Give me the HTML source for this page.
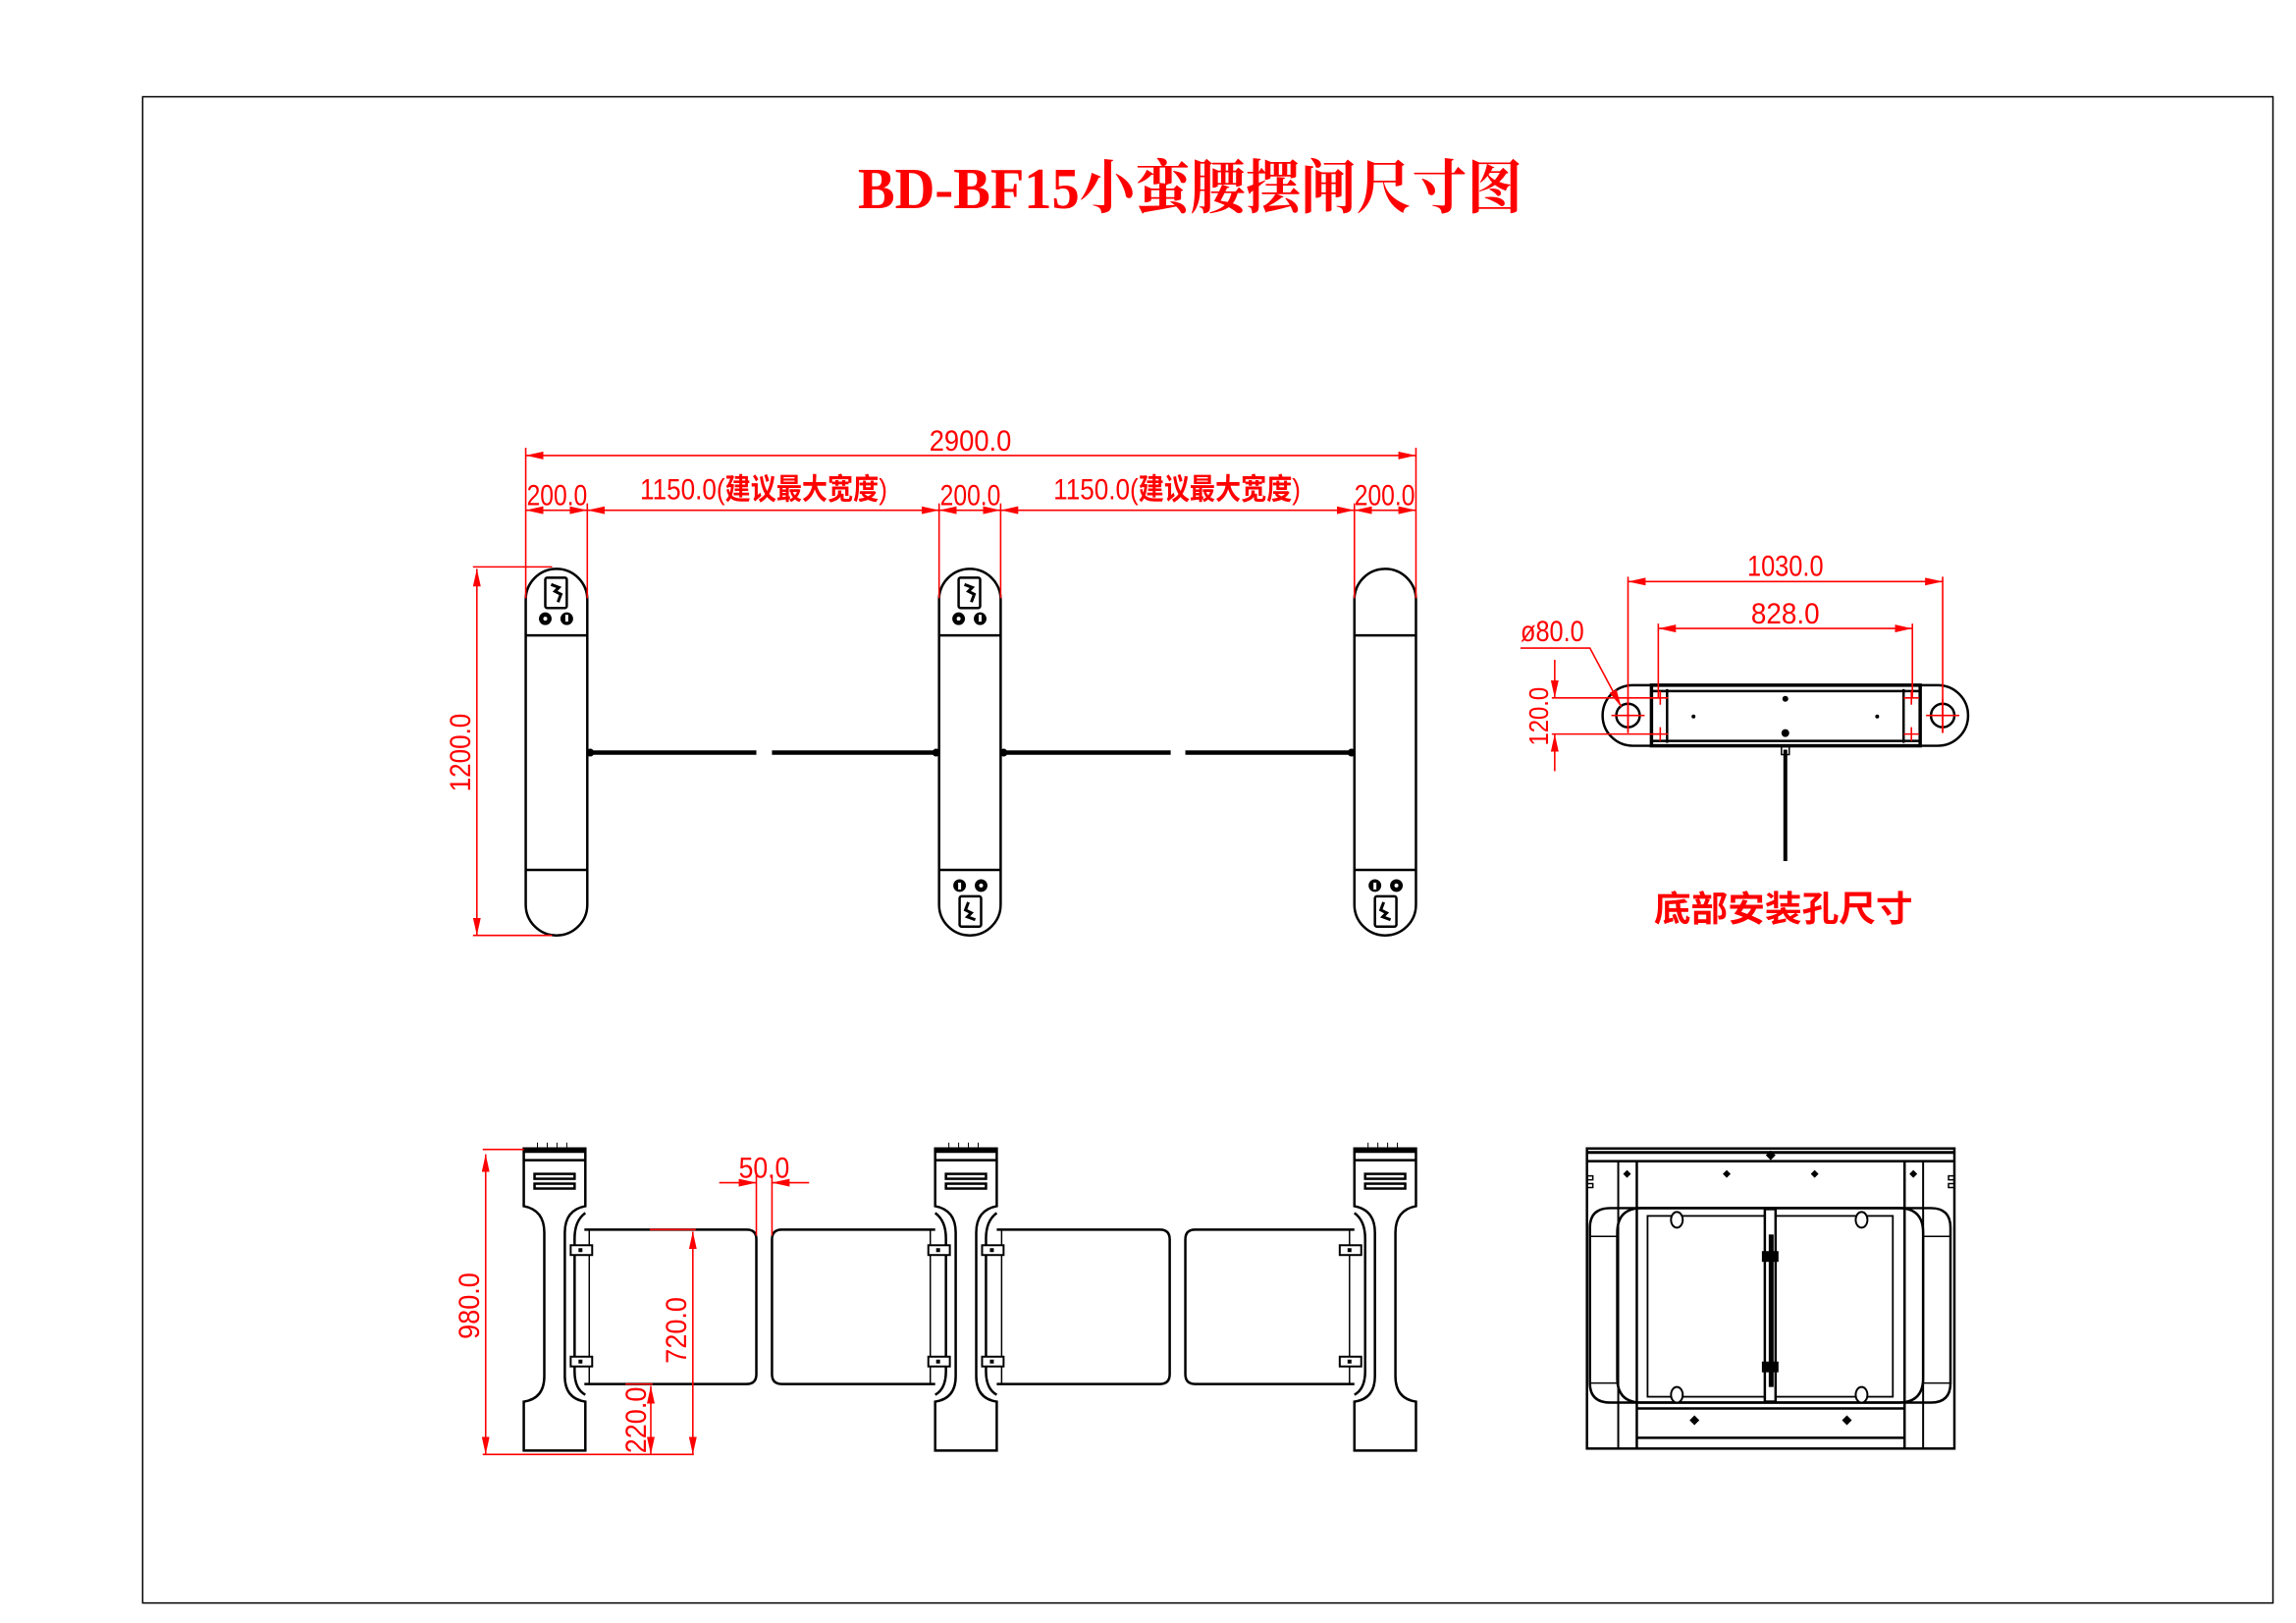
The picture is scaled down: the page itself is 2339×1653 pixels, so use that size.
<!DOCTYPE html>
<html><head><meta charset="utf-8"><style>
html,body{margin:0;padding:0;background:#fff;}
svg{display:block}
.k{fill:none;stroke:#000;stroke-width:2.5}
.r{stroke:#f00;stroke-width:1.6;fill:none}
.d{stroke:#f00;stroke-width:1.6;fill:none;marker-start:url(#a);marker-end:url(#a)}
.e{stroke:#f00;stroke-width:1.6;fill:none;marker-end:url(#a)}
.t{fill:#f00;font-family:"Liberation Sans","Noto Sans CJK SC",sans-serif;}
</style></head><body>
<svg width="2339" height="1653" viewBox="0 0 2339 1653" xmlns="http://www.w3.org/2000/svg">
<defs>
<marker id="a" viewBox="0 0 18 8" refX="18" refY="4" markerWidth="18" markerHeight="8" markerUnits="userSpaceOnUse" orient="auto-start-reverse"><path d="M0,0 L18,4 L0,8 z" fill="#f00"/></marker>
<g id="colT">
<path class="k" d="M0,31.5 A31.5,31.5 0 0 1 63,31.5 V343.5 A31.5,31.5 0 0 1 0,343.5 Z"/>
<line class="k" x1="0" y1="68" x2="63" y2="68"/>
<line class="k" x1="0" y1="308" x2="63" y2="308"/>
</g>
<g id="icoTop">
<rect x="20" y="9" width="22" height="31" rx="2" fill="none" stroke="#000" stroke-width="2.5"/>
<path d="M26,16 l8,3 l-4,4 l6,3 l-3,8" stroke="#000" stroke-width="3" fill="none"/>
<circle cx="20" cy="51" r="6.5" fill="#000"/><circle cx="42" cy="51" r="6.5" fill="#000"/>
<circle cx="20" cy="51" r="2" fill="#fff"/><rect x="40.5" y="47" width="3" height="7" fill="#fff"/>
</g>
<g id="colF">
<path class="k" d="M0,0 H63 V59 Q42,63 42,86 V233 Q42,256 63,259 V309 H0 V259 Q21,256 21,233 V86 Q21,63 0,59 Z"/>
<line x1="0" y1="2" x2="63" y2="2" stroke="#000" stroke-width="5"/>
<line class="k" x1="0" y1="12" x2="63" y2="12"/>
<rect class="k" x="11" y="26" width="41" height="5" stroke-width="2"/>
<rect class="k" x="11" y="36" width="41" height="5" stroke-width="2"/>
<path d="M14,-6 v5 M24,-6 v5 M34,-6 v5 M44,-6 v5" stroke="#000" stroke-width="1"/>
</g>
<g id="shR"><path class="k" stroke-width="2" d="M63,66 Q52,74 52,92 V228 Q52,246 63,252"/></g>
<g id="shL"><path class="k" stroke-width="2" d="M0,66 Q11,74 11,92 V228 Q11,246 0,252"/></g>
<g id="brk"><rect x="0" y="0" width="22" height="10" fill="#fff" stroke="#000" stroke-width="2"/><rect x="8" y="3" width="4" height="4" fill="#000"/></g>
</defs>
<g transform="scale(0.9955)">
<rect x="146" y="99" width="2180" height="1541" fill="none" stroke="#000" stroke-width="1.5"/>

<text x="1218" y="213" text-anchor="middle" fill="#f00" font-family="Liberation Serif,'Noto Serif CJK SC',serif" font-size="60" font-weight="bold" textLength="680" lengthAdjust="spacingAndGlyphs">BD-BF15小蛮腰摆闸尺寸图</text>

<!-- TOP VIEW -->
<use href="#colT" x="538" y="582"/>
<use href="#colT" x="961" y="582"/>
<use href="#colT" x="1386" y="582"/>
<use href="#icoTop" x="538" y="582"/>
<use href="#icoTop" x="961" y="582"/>
<use href="#icoTop" transform="translate(1024,957) rotate(180)"/>
<use href="#icoTop" transform="translate(1449,957) rotate(180)"/>
<g stroke="#000" stroke-width="4.5">
<line x1="603" y1="770" x2="774" y2="770"/><line x1="790" y1="770" x2="959" y2="770"/>
<line x1="1026" y1="770" x2="1198" y2="770"/><line x1="1213" y1="770" x2="1384" y2="770"/>
</g>
<g fill="#000"><circle cx="604" cy="770" r="4"/><circle cx="958" cy="770" r="4"/><circle cx="1027" cy="770" r="4"/><circle cx="1383" cy="770" r="4"/></g>

<line class="d" x1="538" y1="466" x2="1449" y2="466"/>
<line class="r" x1="538" y1="458" x2="538" y2="612"/>
<line class="r" x1="1449" y1="458" x2="1449" y2="612"/>
<line class="d" x1="538" y1="522" x2="601" y2="522"/>
<line class="d" x1="601" y1="522" x2="961" y2="522"/>
<line class="d" x1="961" y1="522" x2="1024" y2="522"/>
<line class="d" x1="1024" y1="522" x2="1386" y2="522"/>
<line class="d" x1="1386" y1="522" x2="1449" y2="522"/>
<line class="r" x1="601" y1="515" x2="601" y2="612"/>
<line class="r" x1="961" y1="515" x2="961" y2="612"/>
<line class="r" x1="1024" y1="515" x2="1024" y2="612"/>
<line class="r" x1="1386" y1="515" x2="1386" y2="612"/>
<g class="t" font-size="30">
<text x="993" y="461" text-anchor="middle" textLength="84" lengthAdjust="spacingAndGlyphs">2900.0</text>
<text x="570" y="517" text-anchor="middle" textLength="62" lengthAdjust="spacingAndGlyphs">200.0</text>
<text x="993" y="517" text-anchor="middle" textLength="62" lengthAdjust="spacingAndGlyphs">200.0</text>
<text x="1417" y="517" text-anchor="middle" textLength="62" lengthAdjust="spacingAndGlyphs">200.0</text>
<text x="655" y="511" textLength="253" lengthAdjust="spacingAndGlyphs">1150.0(<tspan font-weight="bold">建议最大宽度</tspan>)</text>
<text x="1078" y="511" textLength="253" lengthAdjust="spacingAndGlyphs">1150.0(<tspan font-weight="bold">建议最大宽度</tspan>)</text>
</g>
<line class="d" x1="488" y1="582" x2="488" y2="957"/>
<line class="r" x1="484" y1="580" x2="565" y2="580"/>
<line class="r" x1="484" y1="957" x2="565" y2="957"/>
<text class="t" font-size="30" transform="translate(481,770) rotate(-90)" text-anchor="middle" textLength="80" lengthAdjust="spacingAndGlyphs">1200.0</text>

<!-- BASE MOUNTING VIEW -->
<g transform="translate(8,2)">
<path class="k" d="M1663,699 H1975 A31,31 0 0 1 1975,761 H1663 A31,31 0 0 1 1663,699 Z"/>
<rect x="1682" y="699" width="275" height="62" fill="none" stroke="#000" stroke-width="3.5"/>
<line class="k" stroke-width="1.5" x1="1682" y1="705" x2="1957" y2="705"/>
<line class="k" stroke-width="1.5" x1="1682" y1="756" x2="1957" y2="756"/>
<line class="k" stroke-width="2" x1="1698" y1="703" x2="1698" y2="758"/>
<line class="k" stroke-width="2" x1="1940" y1="703" x2="1940" y2="758"/>
<circle class="k" cx="1658" cy="730" r="12"/>
<circle class="k" cx="1980" cy="730" r="12"/>
<g fill="#000"><circle cx="1819" cy="713" r="3"/><circle cx="1725" cy="731" r="2"/><circle cx="1913" cy="731" r="2"/><circle cx="1819" cy="748" r="4"/></g>
<rect x="1815" y="762" width="8" height="8" fill="none" stroke="#000" stroke-width="1.5"/>
<line x1="1819" y1="765" x2="1819" y2="879" stroke="#000" stroke-width="4"/>
<g class="r" stroke-width="1.8">
<path d="M1641,730 H1675 M1658,713 V747 M1963,730 H1997 M1980,713 V747"/>
<path d="M1683,712 H1699 M1691,705 V719 M1683,749 H1699 M1691,742 V756 M1940,712 H1956 M1948,705 V719 M1940,749 H1956 M1948,742 V756"/>
</g>
<line class="d" x1="1658" y1="593" x2="1980" y2="593"/>
<line class="r" x1="1658" y1="588" x2="1658" y2="748"/>
<line class="r" x1="1980" y1="588" x2="1980" y2="748"/>
<line class="d" x1="1689" y1="641" x2="1949" y2="641"/>
<line class="r" x1="1689" y1="636" x2="1689" y2="712"/>
<line class="r" x1="1949" y1="636" x2="1949" y2="712"/>
<g class="t" font-size="30">
<text x="1819" y="587" text-anchor="middle" textLength="78" lengthAdjust="spacingAndGlyphs">1030.0</text>
<text x="1819" y="636" text-anchor="middle" textLength="70" lengthAdjust="spacingAndGlyphs">828.0</text>
<text x="1548" y="654" textLength="65" lengthAdjust="spacingAndGlyphs">ø80.0</text>
</g>
<path class="e" d="M1548,661 H1619 L1651,721"/>
<line class="r" x1="1580" y1="712" x2="1690" y2="712"/>
<line class="r" x1="1580" y1="749" x2="1690" y2="749"/>
<line class="e" x1="1583" y1="673" x2="1583" y2="712"/>
<line class="e" x1="1583" y1="787" x2="1583" y2="749"/>
<text class="t" font-size="28" transform="translate(1576,731) rotate(-90)" text-anchor="middle" textLength="60" lengthAdjust="spacingAndGlyphs">120.0</text>
<text x="1817" y="940" text-anchor="middle" fill="#f00" font-family="'Noto Sans CJK SC',sans-serif" font-weight="bold" font-size="36" textLength="265" lengthAdjust="spacingAndGlyphs">底部安装孔尺寸</text>
</g>

<!-- FRONT VIEW -->
<g transform="translate(0,6)">
<g class="k" stroke-width="2.5">
<path d="M598,1252 H764 Q774,1252 774,1262 V1400 Q774,1410 764,1410 H598"/>
<path d="M957,1252 H800 Q790,1252 790,1262 V1400 Q790,1410 800,1410 H957"/>
<path d="M1020,1252 H1187 Q1197,1252 1197,1262 V1400 Q1197,1410 1187,1410 H1020"/>
<path d="M1386,1252 H1223 Q1213,1252 1213,1262 V1400 Q1213,1410 1223,1410 H1386"/>
</g>
<g stroke="#000" stroke-width="1.5">
<line x1="603" y1="1252" x2="603" y2="1410"/><line x1="952" y1="1252" x2="952" y2="1410"/>
<line x1="1025" y1="1252" x2="1025" y2="1410"/><line x1="1381" y1="1252" x2="1381" y2="1410"/>
</g>
<use href="#colF" x="536" y="1169"/>
<use href="#colF" x="957" y="1169"/>
<use href="#colF" x="1386" y="1169"/>
<use href="#shR" x="536" y="1169"/>
<use href="#shL" x="957" y="1169"/>
<use href="#shR" x="957" y="1169"/>
<use href="#shL" x="1386" y="1169"/>
<use href="#brk" x="584" y="1268"/><use href="#brk" x="584" y="1382"/>
<use href="#brk" x="950" y="1268"/><use href="#brk" x="950" y="1382"/>
<use href="#brk" x="1005" y="1268"/><use href="#brk" x="1005" y="1382"/>
<use href="#brk" x="1371" y="1268"/><use href="#brk" x="1371" y="1382"/>

<line class="d" x1="497" y1="1175" x2="497" y2="1482"/>
<line class="r" x1="494" y1="1170" x2="536" y2="1170"/>
<line class="r" x1="494" y1="1482" x2="710" y2="1482"/>
<text class="t" font-size="30" transform="translate(490,1330) rotate(-90)" text-anchor="middle" textLength="68" lengthAdjust="spacingAndGlyphs">980.0</text>
<line class="d" x1="709" y1="1254" x2="709" y2="1482"/>
<line class="r" x1="665" y1="1252" x2="712" y2="1252" stroke-width="2.5"/>
<text class="t" font-size="30" transform="translate(702,1355) rotate(-90)" text-anchor="middle" textLength="68" lengthAdjust="spacingAndGlyphs">720.0</text>
<line class="d" x1="666" y1="1412" x2="666" y2="1482"/>
<line class="r" x1="640" y1="1410" x2="668" y2="1410"/>
<text class="t" font-size="30" transform="translate(661,1447) rotate(-90)" text-anchor="middle" textLength="68" lengthAdjust="spacingAndGlyphs">220.0</text>
<line class="r" x1="774" y1="1196" x2="774" y2="1258"/>
<line class="r" x1="790" y1="1196" x2="790" y2="1258"/>
<line class="e" x1="736" y1="1204" x2="774" y2="1204"/>
<line class="e" x1="828" y1="1204" x2="790" y2="1204"/>
<text class="t" font-size="30" x="782" y="1199" text-anchor="middle" textLength="52" lengthAdjust="spacingAndGlyphs">50.0</text>
</g>

<!-- SIDE VIEW -->
<g transform="translate(8,6)">
<g class="k" stroke-width="2.5">
<rect x="1616" y="1169" width="376" height="307"/>
<line x1="1616" y1="1173" x2="1992" y2="1173" stroke-width="3"/>
<line x1="1616" y1="1182" x2="1992" y2="1182"/>
<line x1="1648" y1="1182" x2="1648" y2="1476" stroke-width="2"/>
<line x1="1667" y1="1182" x2="1667" y2="1476"/>
<line x1="1941" y1="1182" x2="1941" y2="1476"/>
<line x1="1960" y1="1182" x2="1960" y2="1476" stroke-width="2"/>
<line x1="1667" y1="1230" x2="1941" y2="1230"/>
<line x1="1667" y1="1435" x2="1941" y2="1435"/>
<line x1="1667" y1="1465" x2="1941" y2="1465"/>
<path d="M1640,1230 H1968 Q1988,1230 1988,1250 V1409 Q1988,1429 1968,1429 H1640 Q1619,1429 1619,1409 V1250 Q1619,1230 1640,1230 Z"/>
<path d="M1672,1230 H1935 Q1960,1230 1960,1255 V1404 Q1960,1429 1935,1429 H1672 Q1647,1429 1647,1404 V1255 Q1647,1230 1672,1230 Z"/>
<line x1="1620" y1="1259" x2="1647" y2="1259" stroke-width="1.5"/>
<line x1="1620" y1="1409" x2="1647" y2="1409" stroke-width="1.5"/>
<line x1="1960" y1="1259" x2="1987" y2="1259" stroke-width="1.5"/>
<line x1="1960" y1="1409" x2="1987" y2="1409" stroke-width="1.5"/>
<rect x="1678" y="1238" width="251" height="185" stroke-width="1.8"/>
<rect x="1798" y="1231" width="11" height="197" fill="#fff"/>
</g>
<rect x="1802" y="1257" width="5" height="156" fill="#000"/>
<rect x="1795" y="1274" width="17" height="11" fill="#000"/>
<rect x="1795" y="1387" width="17" height="11" fill="#000"/>
<g fill="#fff" stroke="#000" stroke-width="2">
<ellipse cx="1708" cy="1242" rx="6" ry="8"/><ellipse cx="1897" cy="1242" rx="6" ry="8"/>
<ellipse cx="1708" cy="1421" rx="6" ry="8"/><ellipse cx="1897" cy="1421" rx="6" ry="8"/>
</g>
<g fill="#000">
<path d="M1657,1191 l4,4 l-4,4 l-4,-4z"/><path d="M1759,1191 l4,4 l-4,4 l-4,-4z"/>
<path d="M1849,1191 l4,4 l-4,4 l-4,-4z"/><path d="M1950,1191 l4,4 l-4,4 l-4,-4z"/>
<path d="M1804,1171 l5,5 l-5,5 l-5,-5z"/>
<path d="M1726,1442 l5,5 l-5,5 l-5,-5z"/><path d="M1882,1442 l5,5 l-5,5 l-5,-5z"/>
</g>
<path d="M1616,1197 h6 v4 h-6 M1616,1205 h6 v4 h-6 M1992,1197 h-6 v4 h6 M1992,1205 h-6 v4 h6" fill="none" stroke="#000" stroke-width="1.5"/>
</g>
</g>
</svg>
</body></html>
